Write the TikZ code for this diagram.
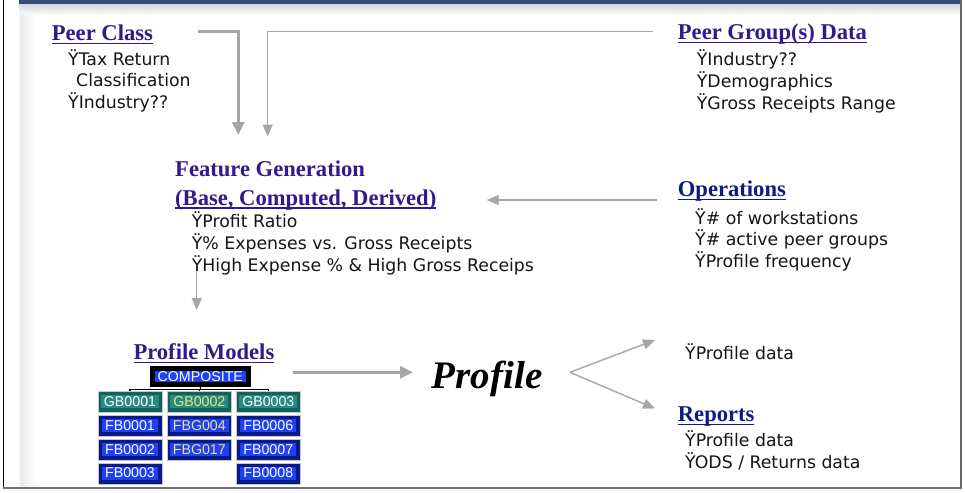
\documentclass[tikz,border=0pt]{standalone}
\usepackage{fontspec}
\setmainfont{DejaVu Sans}
\newfontfamily\headfont{Liberation Serif}
\newfontfamily\boxfont{Liberation Sans}
\usetikzlibrary{arrows.meta}

\definecolor{headpurple}{HTML}{33198C}
\definecolor{headnavy}{HTML}{0D1B86}
\definecolor{bodyblack}{HTML}{151515}
\definecolor{arrowgray}{HTML}{A6A6A6}
\definecolor{barblue}{HTML}{3B4A78}
\definecolor{tealdark}{HTML}{14605A}
\definecolor{teallight}{HTML}{2B8A80}
\definecolor{navybox}{HTML}{0A1A85}
\definecolor{bluebox}{HTML}{2040F5}
\definecolor{paleyellow}{HTML}{E8E48A}

% underline drawn a fixed distance below the baseline
\newcommand\headul[1]{\setbox0=\hbox{#1}\rlap{\rule[-3.6pt]{\wd0}{1.4pt}}\box0}
% block of body lines; first baseline is the node's base
\newcommand\bodylines[2]{{\fontsize{17.3}{#1}\selectfont\begin{tabular}[t]{@{}l@{}}#2\end{tabular}}}
% one cell of the model tree: name, x, y, kind (g/f), label, label colour
\newcommand\modelcell[6]{%
  \node[#4cell] (#1) at (#2,#3) {};
  \node[#4tag, text=#6] (#1-t) at (#1.center) {#5};}

\tikzset{
  head/.style={anchor=base west, inner sep=0, font=\headfont\bfseries\fontsize{22.6}{26}\selectfont},
  body/.style={anchor=base west, inner sep=0, text=bodyblack},
  thickarrow/.style={draw=arrowgray, line width=3pt, -{Triangle[length=13pt,width=12pt]}},
  thinarrow/.style={draw=arrowgray, line width=1.4pt, -{Triangle[length=12pt,width=10pt]}},
  treeline/.style={draw=black, line width=1.3pt},
  modelcell/.style={minimum width=64pt, minimum height=21pt, inner sep=0, draw=black!22, line width=0.8pt},
  gcell/.style={modelcell, fill=tealdark},
  fcell/.style={modelcell, fill=navybox},
  gtag/.style={fill=teallight, inner xsep=3pt, inner ysep=1pt, text height=10pt, text depth=1pt,
               font=\boxfont\fontsize{14.2}{16}\selectfont},
  ftag/.style={gtag, fill=bluebox},
}

\begin{document}
\begin{tikzpicture}[x=1pt, y=-1pt]
\useasboundingbox (0,0) rectangle (965,492);
\fill[white] (0,0) rectangle (965,492);

% slide frame
\shade[top color=barblue!22, bottom color=white] (19,4) rectangle (961,16);
\shade[left color=black!8, right color=white] (20,16) rectangle (37,488);
\fill[barblue] (19,0) rectangle (961,4);
\draw[black, line width=1.3pt] (3.5,0) -- (3.5,488);
\draw[black!60, line width=2pt] (961,0) -- (961,489);
\draw[black!55, line width=2.2pt] (3,488) -- (962,488);

% headings
\node[head, text=headpurple] (pc) at (51.7,40.7) {\headul{Peer Class}};
\node[head, text=headpurple] (pg) at (677.7,39.5) {\headul{Peer Group(s) Data}};
\node[head, text=headpurple, font=\headfont\bfseries\fontsize{22.6}{28.3}\selectfont] (fg) at (175,176.7)
  {\begin{tabular}[t]{@{}l@{}}Feature Generation\\\headul{(Base, Computed, Derived)}\end{tabular}};
\node[head, text=headnavy] (op) at (677.7,196.7) {\headul{Operations}};
\node[head, text=headpurple] (pm) at (133.3,359.3) {\headul{Profile Models}};
\node[head, text=headnavy] (rp) at (677.7,421.7) {\headul{Reports}};
\node[anchor=base west, inner sep=0, text=black, font=\headfont\bfseries\itshape\fontsize{39}{44}\selectfont]
  (profile) at (431.7,388.3) {Profile};

% bullet lists
\node[body] (pcb) at (68,65.8) {\bodylines{20.7}{ŸTax Return\\\hspace*{8pt}Classification\\ŸIndustry??}};
\node[body] (pgb) at (696.7,65.7) {\bodylines{20.8}{ŸIndustry??\\ŸDemographics\\ŸGross Receipts Range}};
\node[body] (fgb) at (191.7,227.3) {\bodylines{20.5}{ŸProfit Ratio\\Ÿ\% Expenses vs. Gross Receipts\\ŸHigh Expense \% \& High Gross Receips}};
\node[body] (opb) at (695,224) {\bodylines{20}{Ÿ\# of workstations\\Ÿ\# active peer groups\\ŸProfile frequency}};
\node[body] (pdb) at (685,359) {\bodylines{21}{ŸProfile data}};
\node[body] (rpb) at (685,446) {\bodylines{21.3}{ŸProfile data\\ŸODS / Returns data}};

% model tree
\node[fill=black, minimum width=100.7pt, minimum height=21.3pt, inner sep=0] (comp) at (200.3,376.6) {};
\node[fill=bluebox, text=white, inner xsep=2.8pt, inner ysep=0.8pt, text height=10pt, text depth=0pt,
      font=\boxfont\fontsize{14.2}{16}\selectfont] (comp-t) at (comp.center) {COMPOSITE};

\modelcell{g1}{130}{401.7}{g}{GB0001}{white}
\modelcell{g2}{199.3}{401.7}{g}{GB0002}{paleyellow}
\modelcell{g3}{268.3}{401.7}{g}{GB0003}{white}
\modelcell{f11}{130}{425.6}{f}{FB0001}{white}
\modelcell{f12}{130}{449.5}{f}{FB0002}{white}
\modelcell{f13}{130}{473.4}{f}{FB0003}{white}
\modelcell{f21}{199.3}{425.6}{f}{FBG004}{paleyellow}
\modelcell{f22}{199.3}{449.5}{f}{FBG017}{paleyellow}
\modelcell{f31}{268.3}{425.6}{f}{FB0006}{white}
\modelcell{f32}{268.3}{449.5}{f}{FB0007}{white}
\modelcell{f33}{268.3}{473.4}{f}{FB0008}{white}

\coordinate (treebar) at (0,389.3);
\draw[treeline] (comp.south) -- (comp.south |- treebar);
\draw[treeline] (g1.north |- treebar) -- (g3.north |- treebar);
\draw[treeline] (g1.north |- treebar) -- (g1.north);
\draw[treeline] (g2.north |- treebar) -- (g2.north);
\draw[treeline] (g3.north |- treebar) -- (g3.north);

% flow connectors
\coordinate (pcout) at (198,31.7);
\coordinate (pcbend) at (238.3,31.7);
\coordinate (pcin) at (238.3,135);
\draw[thickarrow] (pcout) -- (pcbend) -- (pcin);

\coordinate (pgout) at (653,31.7);
\coordinate (pgbend) at (267.7,31.7);
\coordinate (pgin) at (267.7,136.5);
\draw[thinarrow] (pgout) -- (pgbend) -- (pgin);

\coordinate (opout) at (656.7,200);
\coordinate (opin) at (486.7,200);
\draw[thinarrow] (opout) -- (opin);

\coordinate (fgout) at (196.7,271);
\coordinate (fgin) at (196.7,310);
\draw[thinarrow] (fgout) -- (fgin);

\coordinate (pmout) at (293,372.3);
\coordinate (pmin) at (413,372.3);
\draw[thickarrow] (pmout) -- (pmin);

\coordinate (split) at (570,372.3);
\coordinate (toData) at (655,340);
\coordinate (toReports) at (655,408.5);
\draw[thinarrow] (split) -- (toData);
\draw[thinarrow] (split) -- (toReports);
\end{tikzpicture}
\end{document}
